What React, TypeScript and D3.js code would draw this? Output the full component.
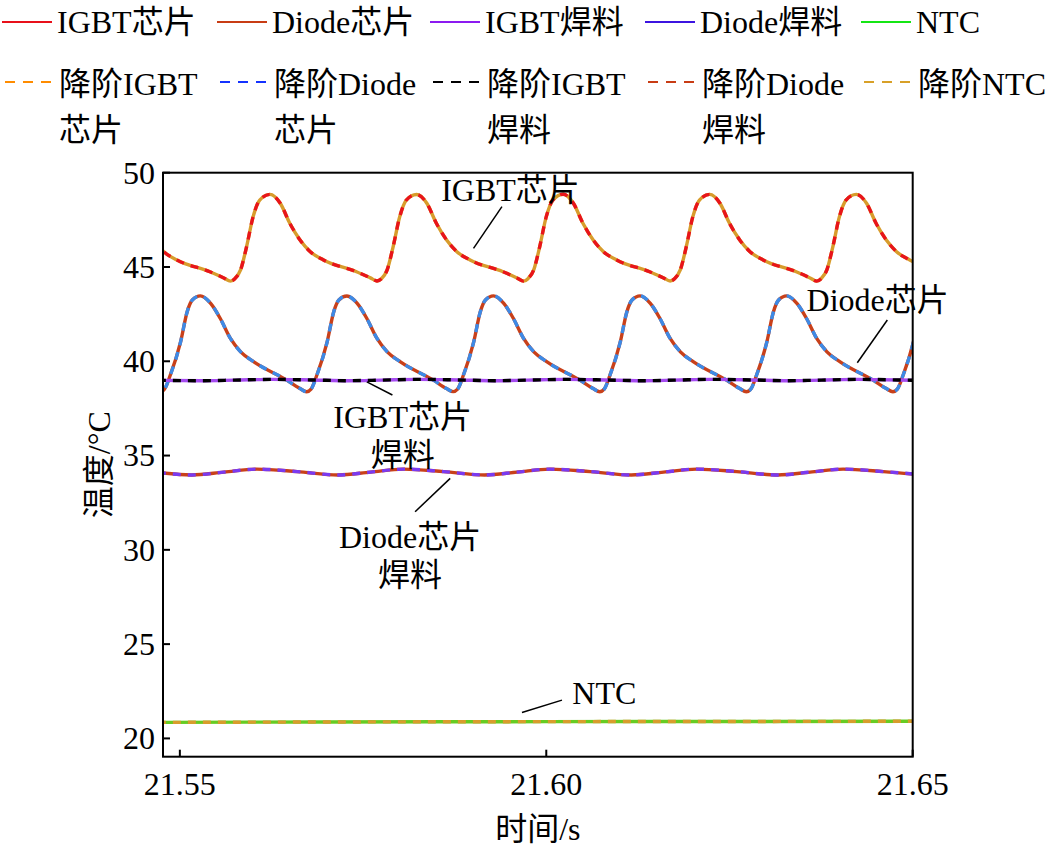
import React from 'react';
import * as d3 from 'd3';

// time (s), temperature (°C)
const igbtChipT = [21.5465, 21.5478, 21.5496, 21.5541, 21.5560,
  21.5569, 21.5575, 21.5583, 21.5591, 21.5600, 21.5609, 21.5623, 21.5637, 21.5650, 21.5664, 21.5678, 21.5696, 21.5741, 21.5760,
  21.5769, 21.5775, 21.5783, 21.5791, 21.5800, 21.5809, 21.5823, 21.5837, 21.5850, 21.5864, 21.5878, 21.5896, 21.5941, 21.5960,
  21.5969, 21.5975, 21.5983, 21.5991, 21.6000, 21.6009, 21.6023, 21.6037, 21.6050, 21.6064, 21.6078, 21.6096, 21.6141, 21.6160,
  21.6169, 21.6175, 21.6183, 21.6191, 21.6200, 21.6209, 21.6223, 21.6237, 21.6250, 21.6264, 21.6278, 21.6296, 21.6341, 21.6360,
  21.6369, 21.6375, 21.6383, 21.6391, 21.6400, 21.6409, 21.6423, 21.6437, 21.6450, 21.6464, 21.6478, 21.6496, 21.6541];
const igbtChipV = [46.40, 45.81, 45.37, 44.75, 44.42,
  44.25, 44.38, 44.86, 46.07, 47.67, 48.55, 48.85, 48.38, 47.32, 46.43, 45.81, 45.37, 44.75, 44.42,
  44.26, 44.38, 44.86, 46.07, 47.66, 48.55, 48.84, 48.38, 47.32, 46.43, 45.81, 45.37, 44.75, 44.42,
  44.25, 44.38, 44.86, 46.07, 47.67, 48.55, 48.86, 48.38, 47.32, 46.43, 45.81, 45.37, 44.75, 44.42,
  44.26, 44.38, 44.86, 46.07, 47.67, 48.55, 48.85, 48.38, 47.32, 46.43, 45.81, 45.37, 44.75, 44.42,
  44.25, 44.38, 44.86, 46.07, 47.67, 48.55, 48.85, 48.38, 47.32, 46.43, 45.81, 45.37, 44.75];

const diodeChipT = [21.5463,
  21.5473, 21.5479, 21.5487, 21.5501, 21.5510, 21.5517, 21.5528, 21.5542, 21.5555, 21.5569, 21.5583, 21.5601, 21.5646, 21.5664,
  21.5673, 21.5679, 21.5687, 21.5701, 21.5710, 21.5717, 21.5728, 21.5742, 21.5755, 21.5769, 21.5783, 21.5801, 21.5846, 21.5864,
  21.5873, 21.5879, 21.5887, 21.5901, 21.5910, 21.5917, 21.5928, 21.5942, 21.5955, 21.5969, 21.5983, 21.6001, 21.6046, 21.6064,
  21.6073, 21.6079, 21.6087, 21.6101, 21.6110, 21.6117, 21.6128, 21.6142, 21.6155, 21.6169, 21.6183, 21.6201, 21.6246, 21.6264,
  21.6273, 21.6279, 21.6287, 21.6301, 21.6310, 21.6317, 21.6328, 21.6342, 21.6355, 21.6369, 21.6383, 21.6401, 21.6446, 21.6464,
  21.6473, 21.6479, 21.6487, 21.6501, 21.6510];
const diodeChipV = [38.55,
  38.38, 38.52, 39.27, 41.03, 42.63, 43.25, 43.47, 43.07, 42.28, 41.21, 40.50, 39.97, 39.00, 38.55,
  38.38, 38.52, 39.27, 41.03, 42.63, 43.25, 43.46, 43.07, 42.28, 41.21, 40.50, 39.97, 39.00, 38.55,
  38.39, 38.52, 39.27, 41.03, 42.63, 43.25, 43.47, 43.07, 42.28, 41.21, 40.50, 39.97, 39.00, 38.55,
  38.38, 38.52, 39.27, 41.03, 42.63, 43.25, 43.47, 43.07, 42.28, 41.21, 40.50, 39.97, 39.00, 38.55,
  38.38, 38.52, 39.27, 41.03, 42.63, 43.25, 43.47, 43.07, 42.28, 41.21, 40.50, 39.97, 39.00, 38.55,
  38.38, 38.52, 39.27, 41.03, 42.63];

const igbtSolderT = [21.5470, 21.5530, 21.5575, 21.5625, 21.5680, 21.5730, 21.5775, 21.5825, 21.5880, 21.5930, 21.5975,
  21.6025, 21.6080, 21.6130, 21.6175, 21.6225, 21.6280, 21.6330, 21.6375, 21.6425, 21.6480, 21.6510];
const igbtSolderV = [38.99, 38.97, 39.00, 39.04, 39.01, 38.97, 39.00, 39.04, 39.01, 38.97, 39.00,
  39.04, 39.01, 38.97, 39.00, 39.04, 39.01, 38.97, 39.00, 39.04, 39.01, 38.98];

const diodeSolderT = [21.5470, 21.5516, 21.5560, 21.5605, 21.5660, 21.5716, 21.5760, 21.5805, 21.5860, 21.5916, 21.5960,
  21.6005, 21.6060, 21.6116, 21.6160, 21.6205, 21.6260, 21.6316, 21.6360, 21.6405, 21.6460, 21.6516];
const diodeSolderV = [34.10, 33.97, 34.12, 34.28, 34.15, 33.97, 34.12, 34.28, 34.15, 33.97, 34.12,
  34.28, 34.15, 33.97, 34.12, 34.28, 34.15, 33.97, 34.12, 34.28, 34.15, 33.97];

const ntcT = [21.5470, 21.5700, 21.6000, 21.6300, 21.6510];
const ntcV = [20.85, 20.87, 20.89, 20.90, 20.91];

const xTicks = [21.55, 21.60, 21.65];
const yTicks = [20, 25, 30, 35, 40, 45, 50];

const legendSolid = ['IGBT芯片', 'Diode芯片', 'IGBT焊料', 'Diode焊料', 'NTC'];
const legendSolidColors = ['#e8101a', '#c83c14', '#8c1af0', '#3c14e0', '#14e614'];
const legendDashed = [['降阶IGBT', '芯片'], ['降阶Diode', '芯片'], ['降阶IGBT', '焊料'], ['降阶Diode', '焊料'], ['降阶NTC']];
const legendDashedColors = ['#ff8c00', '#1432ff', '#000000', '#c83c14', '#d8a028'];

// how the overlapping full/reduced curves look in the plot (base, dashes)
const plotBase = ['#d89c2c', '#c8401a', '#a64cf0', '#c8401a', '#66cc22'];
const plotDash = ['#e8141a', '#3d8ae6', '#000000', '#7a3af0', '#d89c2c'];

const notes = [
  { lines: ['IGBT芯片'], t: 21.58566, v: 48.5, anchor: 'start', l: [21.59395, 48.20, 21.59007, 45.99] },
  { lines: ['Diode芯片'], t: 21.63552, v: 42.66, anchor: 'start', l: [21.64654, 42.19, 21.64244, 39.92] },
  { lines: ['IGBT芯片', '焊料'], t: 21.5804, v: 36.46, anchor: 'middle', l: [21.57551, 38.91, 21.579, 38.21] },
  { lines: ['Diode芯片', '焊料'], t: 21.58142, v: 30.09, anchor: 'middle', l: [21.58689, 33.79, 21.5821, 32.02] },
  { lines: ['NTC'], t: 21.60355, v: 21.83, anchor: 'start', l: [21.59668, 21.37, 21.60214, 22.03] },
];

const FONT = "'Liberation Serif', 'Times New Roman', 'Noto Sans CJK SC', serif";

export default function App() {
  const W = 1054, H = 848;
  const left = 163, right = 912.7, top = 172.7, bottom = 756.7;

  const x = d3.scaleLinear().domain([21.5477, 21.65]).range([left, right]);
  const y = d3.scaleLinear().domain([19.03, 50]).range([bottom, top]);

  const series = [
    [igbtChipT, igbtChipV],
    [diodeChipT, diodeChipV],
    [igbtSolderT, igbtSolderV],
    [diodeSolderT, diodeSolderV],
    [ntcT, ntcV],
  ];

  const line = d3.line<[number, number]>()
    .x(d => x(d[0]))
    .y(d => y(d[1]))
    .curve(d3.curveMonotoneX);

  const paths = series.map(([ts, vs]) => line(ts.map((t, i) => [t, vs[i]] as [number, number])) || '');

  const colX = [2, 217, 430, 645, 861];

  return (
    <div style={{ position: 'absolute', left: 0, top: 0 }}>
      <svg width={W} height={H} style={{ display: 'block', background: '#fff' }} fontFamily={FONT}>
        <defs>
          <clipPath id="plotClip">
            <rect x={left} y={top} width={right - left} height={bottom - top} />
          </clipPath>
        </defs>

        {/* legend */}
        {legendSolid.map((name, i) => (
          <g key={'s' + i}>
            <line x1={colX[i]} x2={colX[i] + 50} y1={22} y2={22} stroke={legendSolidColors[i]} strokeWidth={2} />
            <text x={colX[i] + 55} y={33} fontSize={32}>{name}</text>
          </g>
        ))}
        {legendDashed.map((parts, i) => (
          <g key={'d' + i}>
            <line x1={colX[i] + 3} x2={colX[i] + 50} y1={82} y2={82} stroke={legendDashedColors[i]}
              strokeWidth={2} strokeDasharray="10,8" />
            {parts.map((p, j) => (
              <text key={j} x={colX[i] + 57} y={95 + j * 46} fontSize={32}>{p}</text>
            ))}
          </g>
        ))}

        {/* curves */}
        <g clipPath="url(#plotClip)">
          {paths.map((d, i) => (
            <g key={'c' + i}>
              <path d={d} fill="none" stroke={plotBase[i]} strokeWidth={3.4} />
              <path d={d} fill="none" stroke={plotDash[i]} strokeWidth={3.4} strokeDasharray="8,7" />
            </g>
          ))}
        </g>

        {/* frame and ticks */}
        <rect x={left} y={top} width={right - left} height={bottom - top} fill="none" stroke="#000" strokeWidth={2} />
        {yTicks.map(t => (
          <g key={'y' + t}>
            <line x1={left} x2={left + 7} y1={y(t)} y2={y(t)} stroke="#000" strokeWidth={2} />
            <text x={left - 8} y={y(t)} dy="0.34em" textAnchor="end" fontSize={32}>{t}</text>
          </g>
        ))}
        {xTicks.map(t => (
          <g key={'x' + t}>
            <line x1={x(t)} x2={x(t)} y1={bottom} y2={bottom - 7} stroke="#000" strokeWidth={2} />
            <text x={x(t)} y={795} textAnchor="middle" fontSize={32}>{t.toFixed(2)}</text>
          </g>
        ))}

        <text x={(left + right) / 2} y={840} textAnchor="middle" fontSize={32}>时间/s</text>
        <text transform={`translate(110,${(top + bottom) / 2}) rotate(-90)`} textAnchor="middle" fontSize={32}>温度/°C</text>

        {/* annotations */}
        {notes.map((n, i) => (
          <g key={'n' + i}>
            <line x1={x(n.l[0])} y1={y(n.l[1])} x2={x(n.l[2])} y2={y(n.l[3])} stroke="#000" strokeWidth={1.5} />
            {n.lines.map((s, j) => (
              <text key={j} x={x(n.t)} y={y(n.v) + j * 38} textAnchor={n.anchor as any} fontSize={32}>{s}</text>
            ))}
          </g>
        ))}
      </svg>
    </div>
  );
}
